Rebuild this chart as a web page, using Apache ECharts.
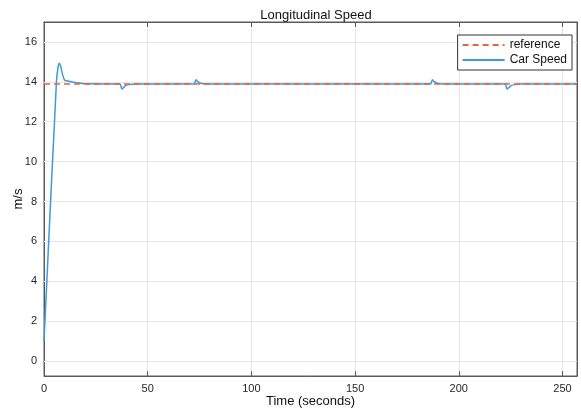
<!DOCTYPE html>
<html><head><meta charset="utf-8">
<script src="https://cdn.jsdelivr.net/npm/echarts@6/dist/echarts.min.js"></script>
<style>html,body{margin:0;padding:0;background:#fff}#c{width:581px;height:409px}</style>
</head><body><div id="c"></div>
<script>
var timeS = [0, 6, 6.8, 7.4, 8, 9, 10, 12, 15, 20, 36.6, 37.1, 37.6, 38.3, 39.5, 41, 44, 72.4, 72.9, 73.4, 74, 75.5, 78, 186.4, 186.9, 187.3, 188, 189.5, 192, 222.4, 222.8, 223.3, 224, 225.5, 227, 230, 257];
var carSpeed = [1.0, 14.0, 14.75, 14.93, 14.8, 14.35, 14.08, 14.03, 13.97, 13.9, 13.89, 13.78, 13.64, 13.7, 13.82, 13.86, 13.89, 13.89, 14.02, 14.1, 14.02, 13.93, 13.89, 13.89, 14.02, 14.1, 14.02, 13.93, 13.89, 13.89, 13.78, 13.64, 13.7, 13.82, 13.86, 13.89, 13.89];
var refSpeed = 13.89;
var xTicks = [0, 50, 100, 150, 200, 250];
var yTicks = [0, 2, 4, 6, 8, 10, 12, 14, 16];

var chart = echarts.init(document.getElementById('c'));
var font = 'Liberation Sans, Arial, sans-serif';
var axisCol = '#5a5a5a';
var orange = '#e8643a', blue = '#3b9ae0';
function pairs(xs, ys){ return xs.map(function(x,i){return [x, ys[i]];}); }
chart.setOption({
  animation: false,
  title: {text: 'Longitudinal Speed', left: 311, textAlign: 'center', top: 4,
    textStyle: {fontFamily: font, fontSize: 13, fontWeight: 'normal', color: '#111'}},
  legend: {right: 9, top: 35, z: 20, orient: 'vertical', backgroundColor: '#fff', borderColor: '#333', borderWidth: 1,
    padding: [4, 5, 4, 4], itemGap: 3, itemWidth: 42, itemHeight: 10,
    itemStyle: {opacity: 0},
    textStyle: {fontFamily: font, fontSize: 12, color: '#111'},
    data: ['reference', 'Car Speed']},
  grid: {left: 44, right: 4, top: 22, bottom: 33, show: true, borderColor: axisCol, borderWidth: 1, outerBoundsMode: 'none', containLabel: false},
  xAxis: [{type: 'value', min: 0, max: 257, interval: 50,
    name: 'Time (seconds)', nameLocation: 'middle', nameGap: 19, nameMoveOverlap: false,
    nameTextStyle: {fontFamily: font, fontSize: 13, color: '#111'},
    axisLine: {onZero: false, lineStyle: {color: axisCol}},
    axisTick: {inside: true, length: 5, lineStyle: {color: axisCol}},
    axisLabel: {fontFamily: font, fontSize: 11, color: '#262626', margin: 7, showMaxLabel: false},
    splitLine: {show: true, lineStyle: {color: '#e6e6e6'}}},
   {type: 'value', position: 'top', min: 0, max: 257, interval: 50,
    axisLine: {onZero: false, lineStyle: {color: axisCol}},
    axisTick: {inside: true, length: 5, lineStyle: {color: axisCol}},
    axisLabel: {show: false}, splitLine: {show: false}}],
  yAxis: [{type: 'value', min: -0.75, max: 17,
    name: 'm/s', nameLocation: 'middle', nameGap: 19, nameMoveOverlap: false,
    nameTextStyle: {fontFamily: font, fontSize: 13, color: '#111'},
    axisLine: {show: true, onZero: false, lineStyle: {color: axisCol}},
    axisTick: {show: true, inside: true, length: 5, customValues: yTicks, lineStyle: {color: axisCol}},
    axisLabel: {fontFamily: font, fontSize: 11, color: '#262626', margin: 7, customValues: yTicks},
    splitLine: {show: false}},
   {type: 'value', position: 'right', min: -0.75, max: 17,
    axisLine: {show: true, onZero: false, lineStyle: {color: axisCol}},
    axisTick: {show: true, inside: true, length: 5, customValues: yTicks, lineStyle: {color: axisCol}},
    axisLabel: {show: false}, splitLine: {show: false}}],
  series: [
    {name: 'grid', type: 'line', data: [], silent: true, z: 1,
     markLine: {silent: true, symbol: 'none', label: {show: false}, z: 1,
       lineStyle: {color: '#e6e6e6', type: 'solid', width: 1},
       data: yTicks.map(function(v){return {yAxis: v};})}},
    {name: 'reference', type: 'line', data: [[0, refSpeed], [257, refSpeed]], showSymbol: false, symbol: 'none',
     lineStyle: {color: orange, width: 1.5, type: [6, 4]}, itemStyle: {color: orange}, z: 4},
    {name: 'Car Speed', type: 'line', data: pairs(timeS, carSpeed), showSymbol: false, symbol: 'none', smooth: 0.3,
     lineStyle: {color: blue, width: 1.5}, itemStyle: {color: blue}, z: 3}
  ]
});
</script></body></html>
